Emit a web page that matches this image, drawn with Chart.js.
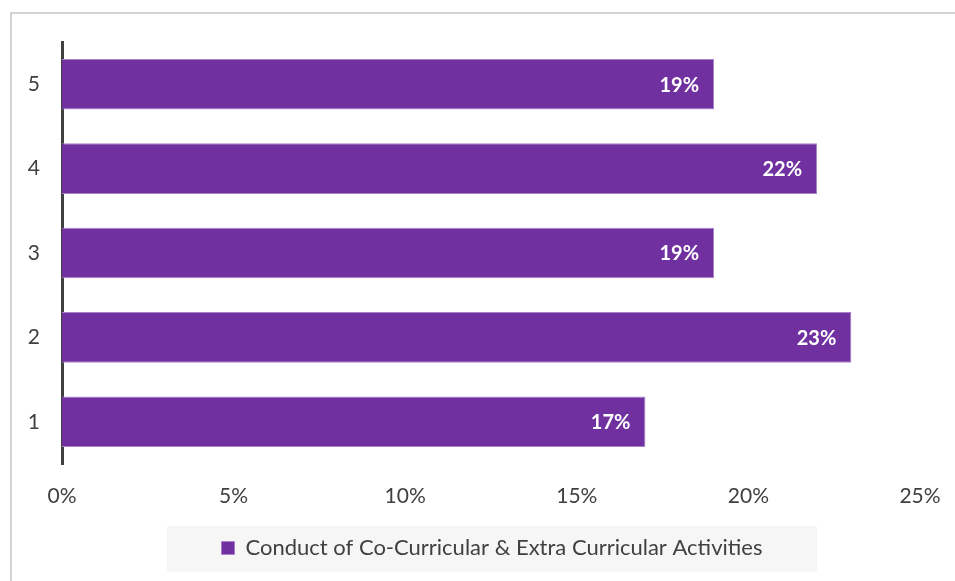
<!DOCTYPE html>
<html>
<head>
<meta charset="utf-8">
<script src="https://cdn.jsdelivr.net/npm/chart.js"></script>
<style>
    body {
        margin: 0;
        background: #ffffff;
        overflow: hidden;
    }
    .frame {
        position: absolute;
        left: 10px;
        top: 12px;
        width: 960px;
        height: 600px;
        border: 2px solid #d4d4d4;
    }
    .wrap {
        position: absolute;
        left: 0;
        top: 0;
        width: 955px;
        height: 581px;
    }
</style>
</head>
<body>
<div class="frame"></div>
<div class="wrap">
    <canvas id="activityChart" width="955" height="581"></canvas>
</div>

<script>
    const categories = ['5', '4', '3', '2', '1'];
    const shares = [19, 22, 19, 23, 17];
    const seriesName = 'Conduct of Co-Curricular & Extra Curricular Activities';
    const xTicks = [0, 5, 10, 15, 20, 25];

    const FONT = "Lato, 'Open Sans', sans-serif";
    const PURPLE = '#7030a0';
    const TEXT = '#404040';

    // white % labels inside the end of each bar
    const barLabels = {
        id: 'barLabels',
        afterDatasetsDraw(chart) {
            const ctx = chart.ctx;
            const meta = chart.getDatasetMeta(0);
            ctx.save();
            ctx.fillStyle = '#ffffff';
            ctx.font = "bold 20px " + FONT;
            ctx.textAlign = 'right';
            ctx.textBaseline = 'middle';
            meta.data.forEach((bar, i) => {
                ctx.fillText(shares[i] + '%', bar.x - 15, bar.y + 1);
            });
            ctx.restore();
        }
    };

    // legend sits right of the canvas centre, on a light grey band
    const legendBand = {
        id: 'legendBand',
        afterLayout(chart) {
            const lg = chart.legend;
            if (!lg) return;
            const shift = 492 - (lg.left + lg.right) / 2;
            lg.left += shift;
            lg.right += shift;
        },
        beforeDraw(chart) {
            const lg = chart.legend;
            if (!lg) return;
            const cx = lg.left + lg.width / 2;
            const cy = lg.top + lg.height / 2;
            const ctx = chart.ctx;
            ctx.save();
            ctx.fillStyle = '#f6f6f6';
            ctx.fillRect(cx - 325, cy - 23, 650, 46);
            ctx.restore();
        }
    };

    new Chart(document.getElementById('activityChart'), {
        type: 'bar',
        data: {
            labels: categories,
            datasets: [{
                label: seriesName,
                data: shares,
                backgroundColor: PURPLE,
                borderColor: '#a883c9',
                borderWidth: 1,
                borderSkipped: 'start',
                barPercentage: 0.6,
                categoryPercentage: 1
            }]
        },
        options: {
            indexAxis: 'y',
            responsive: false,
            animation: false,
            layout: {
                padding: { left: 0, right: 35, top: 42, bottom: 12 }
            },
            plugins: {
                tooltip: { enabled: false },
                legend: {
                    position: 'bottom',
                    labels: {
                        color: TEXT,
                        font: { family: FONT, size: 22 },
                        boxWidth: 13,
                        boxHeight: 13,
                        padding: 8,
                        generateLabels(chart) {
                            return [{
                                text: seriesName,
                                fillStyle: PURPLE,
                                strokeStyle: '#a883c9',
                                lineWidth: 1,
                                fontColor: TEXT,
                                datasetIndex: 0
                            }];
                        }
                    }
                }
            },
            scales: {
                x: {
                    min: 0,
                    max: 25,
                    afterBuildTicks(scale) {
                        scale.ticks = xTicks.map(v => ({ value: v }));
                    },
                    afterFit(scale) {
                        scale.height = 65;
                        scale.paddingLeft = 0;
                        scale.paddingRight = 0;
                    },
                    grid: { display: false, drawTicks: false },
                    border: { display: false },
                    ticks: {
                        color: TEXT,
                        padding: 20,
                        font: { family: FONT, size: 21 },
                        callback: v => v + '%'
                    }
                },
                y: {
                    afterFit(scale) {
                        scale.width = 62;
                    },
                    grid: { display: false, drawTicks: false },
                    border: { display: true, color: '#404040', width: 3 },
                    ticks: {
                        color: TEXT,
                        padding: 22,
                        font: { family: FONT, size: 21 }
                    }
                }
            }
        },
        plugins: [legendBand, barLabels]
    });
</script>
</body>
</html>
